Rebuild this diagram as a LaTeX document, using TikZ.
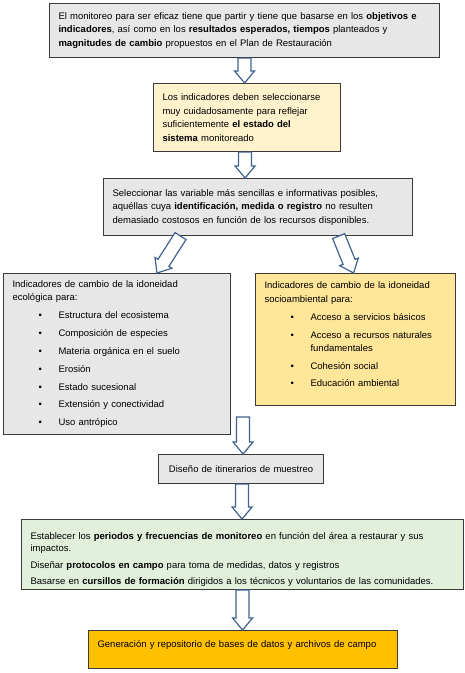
\documentclass[tikz,border=0pt]{standalone}
\usepackage{fontspec}
\setmainfont{Liberation Sans}
\usepackage{xcolor}
\usepackage{tikz}
\usetikzlibrary{calc}

\definecolor{boxline}{HTML}{3A3A3A}
\definecolor{grayfill}{HTML}{E7E7E7}
\definecolor{paleyellow}{HTML}{FFF2CC}
\definecolor{midyellow}{HTML}{FFE699}
\definecolor{palegreen}{HTML}{E2EFDA}
\definecolor{deeporange}{HTML}{FFC000}
\definecolor{arrline}{HTML}{41618F}

\newcommand{\itm}{\hspace*{26pt}\makebox[20pt][l]{\textbullet}}
\newcommand{\fatarrow}[2]{%
\coordinate (hb) at ($(#2)!12pt!(#1)$);
\draw[fatarr] ($(#1)!6.5pt!90:(#2)$) -- ($(hb)!6.5pt!-90:(#1)$) -- ($(hb)!10pt!-90:(#1)$) -- (#2)
  -- ($(hb)!10pt!90:(#1)$) -- ($(hb)!6.5pt!90:(#1)$) -- ($(#1)!6.5pt!-90:(#2)$) -- cycle;}

\begin{document}
\begin{tikzpicture}[
x=1pt, y=-1pt,
box/.style={draw=boxline, line width=1.1pt, align=left, anchor=north west, inner xsep=9pt, inner ysep=3pt, font=\fontsize{9.5}{13.5}\selectfont},
fatarr/.style={draw=arrline, fill=white, line width=1.2pt, line join=miter}
]
\useasboundingbox (0,0) rectangle (465,673);
\node[box, fill=grayfill, text width=372pt, minimum height=54pt] (goal) at (49,3) {El monitoreo para ser eficaz tiene que partir y tiene que basarse en los \textbf{objetivos e}\\
\textbf{indicadores}, así como en los \textbf{resultados esperados, tiempos} planteados y\\
\textbf{magnitudes de cambio} propuestos en el Plan de Restauración};
\node[box, fill=paleyellow, text width=169pt, minimum height=68pt] (select) at (153,83) {Los indicadores deben seleccionarse\\
muy cuidadosamente para reflejar\\
suficientemente \textbf{el estado del}\\
\textbf{sistema} monitoreado};
\node[box, fill=grayfill, text width=291pt, minimum height=57pt] (vars) at (103,178) {Seleccionar las variable más sencillas e informativas posibles,\\
aquéllas cuya \textbf{identificación, medida o registro} no resulten\\
demasiado costosos en función de los recursos disponibles.};
\node[box, fill=grayfill, text width=209pt, minimum height=161pt] (eco) at (3,273) {Indicadores de cambio de la idoneidad\\
ecológica para:\\[4.5pt]
\itm Estructura del ecosistema\\[4.3pt]
\itm Composición de especies\\[4.3pt]
\itm Materia orgánica en el suelo\\[4.3pt]
\itm Erosión\\[4.3pt]
\itm Estado sucesional\\[4.3pt]
\itm Extensión y conectividad\\[4.3pt]
\itm Uso antrópico};
\node[box, fill=midyellow, text width=182pt, minimum height=132pt] (socio) at (255,273) {Indicadores de cambio de la idoneidad\\
socioambiental para:\\[4.5pt]
\itm Acceso a servicios básicos\\[4.5pt]
\itm Acceso a recursos naturales\\
\hspace*{46pt}fundamentales\\[4.5pt]
\itm Cohesión social\\[3pt]
\itm Educación ambiental\rule[-11pt]{0pt}{11pt}};
\node[box, fill=grayfill, text width=147pt, minimum height=29pt, align=center] (route) at (158,454) {Diseño de itinerarios de muestreo};
\node[box, fill=palegreen, text width=424pt, minimum height=69pt, font=\fontsize{9.5}{12}\selectfont] (field) at (21,519) {\rule{0pt}{17pt}Establecer los \textbf{periodos y frecuencias de monitoreo} en función del área a restaurar y sus\\
impactos.\\[4.5pt]
Diseñar \textbf{protocolos en campo} para toma de medidas, datos y registros\\[4.5pt]
Basarse en \textbf{cursillos de formación} dirigidos a los técnicos y voluntarios de las comunidades.};
\node[box, fill=deeporange, text width=291pt, inner ysep=4pt, text height=13pt, text depth=17pt] (data) at (88,630) {Generación y repositorio de bases de datos y archivos de campo};
\coordinate (a1s) at (goal.south);
\coordinate (a1e) at (goal.south |- select.north);
\coordinate (a2s) at ($(select.south)+(-2,0)$);
\coordinate (a2e) at (a2s |- vars.north);
\coordinate (dls) at ($(vars.south west)!0.25!(vars.south east)$);
\coordinate (dle) at ($(eco.north west)!0.675!(eco.north east)$);
\coordinate (drs) at ($(vars.south west)!0.76!(vars.south east)$);
\coordinate (dre) at ($(socio.north west)!0.49!(socio.north east)$);
\coordinate (split) at ($(route.north)+(2,-37)$);
\coordinate (a3e) at (split |- route.north);
\coordinate (a4s) at ($(route.south)+(1,0)$);
\coordinate (a4e) at (a4s |- field.north);
\coordinate (a5s) at (field.south);
\coordinate (a5e) at (field.south |- data.north);
\fatarrow{a1s}{a1e}
\fatarrow{a2s}{a2e}
\fatarrow{dls}{dle}
\fatarrow{drs}{dre}
\fatarrow{split}{a3e}
\fatarrow{a4s}{a4e}
\fatarrow{a5s}{a5e}
\end{tikzpicture}
\end{document}
